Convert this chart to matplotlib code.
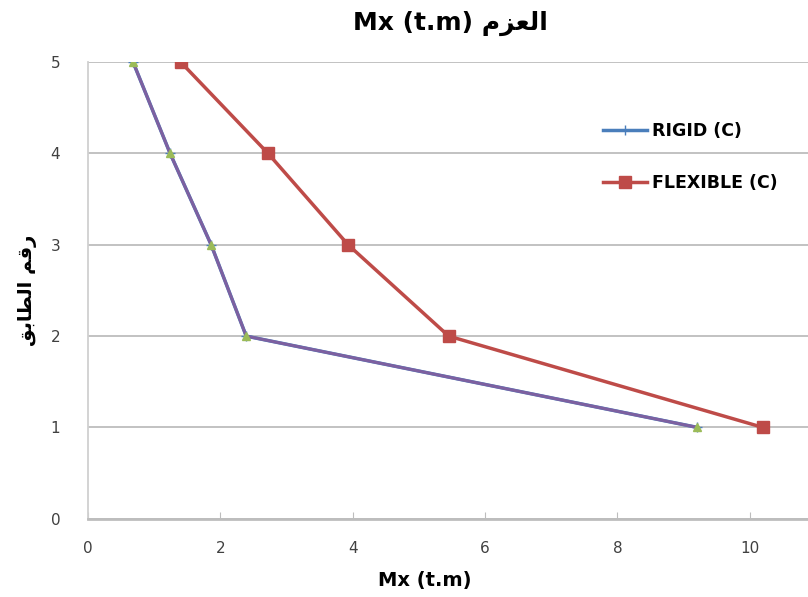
import matplotlib
matplotlib.use("Agg")
import matplotlib.pyplot as plt

floors = [5, 4, 3, 2, 1]
rigid = [0.68, 1.24, 1.86, 2.39, 9.21]
flexible = [1.40, 2.72, 3.93, 5.45, 10.20]
xticks = [0, 2, 4, 6, 8, 10]
yticks = [0, 1, 2, 3, 4, 5]

# Arabic text in visual (presentation-form) order
ar_title = "\uFEE1\uFEB0\uFECC\uFEDF\uFE8D"          # العزم
ar_ylabel = "\uFED6\uFE91\uFE8E\uFEC4\uFEDF\uFE8D \uFEE2\uFED7\uFEAD"  # رقم الطابق

fam = ['DejaVu Sans']

fig = plt.figure(figsize=(8.08, 5.97), dpi=100)
ax = fig.add_axes([0.109, 0.131, 0.891, 0.765])

ax.plot(rigid, floors, color='#4a7ebb', lw=2.5, marker='+', ms=7, label='RIGID (C)', zorder=3)
ax.plot(rigid, floors, color='#7d60a0', lw=2.2, marker='^', ms=6, mfc='#9bbb59', mec='#9bbb59', zorder=4)
ax.plot(flexible, floors, color='#be4b48', lw=2.5, marker='s', ms=8, label='FLEXIBLE (C)', zorder=5)

ax.set_xlim(0, 10.88)
ax.set_ylim(0, 5)
ax.set_xticks(xticks)
ax.set_yticks(yticks)
ax.grid(axis='y', color='#bdbdbd', lw=1.3)
ax.set_axisbelow(True)
for s in ['top', 'right']:
    ax.spines[s].set_visible(False)
ax.spines['left'].set_color('#d0d0d0')
ax.spines['left'].set_linewidth(1.3)
ax.spines['bottom'].set_color('#bdbdbd')
ax.spines['bottom'].set_linewidth(2)
ax.tick_params(axis='x', direction='in', length=5, color='#bdbdbd', labelsize=11, pad=16, labelcolor='#404040')
ax.tick_params(axis='y', length=0, labelsize=11, pad=20, labelcolor='#404040')

ax.set_xlabel('Mx (t.m)', fontsize=14, fontweight='bold', family=fam, labelpad=8)
ax.xaxis.set_label_coords(0.468, -0.115)
ax.set_ylabel(ar_ylabel, fontsize=14, fontweight='bold', family=fam, labelpad=10)
fig.text(0.558, 0.96, 'Mx (t.m) ' + ar_title, ha='center', va='center',
         fontsize=18, fontweight='bold', family=fam)

leg = ax.legend(loc='upper left', bbox_to_anchor=(0.694, 0.903), frameon=False,
                labelspacing=1.95, handlelength=2.5, handletextpad=0.3,
                prop={'weight': 'bold', 'size': 12.5, 'family': fam})

fig.savefig('out.png', dpi=100)
